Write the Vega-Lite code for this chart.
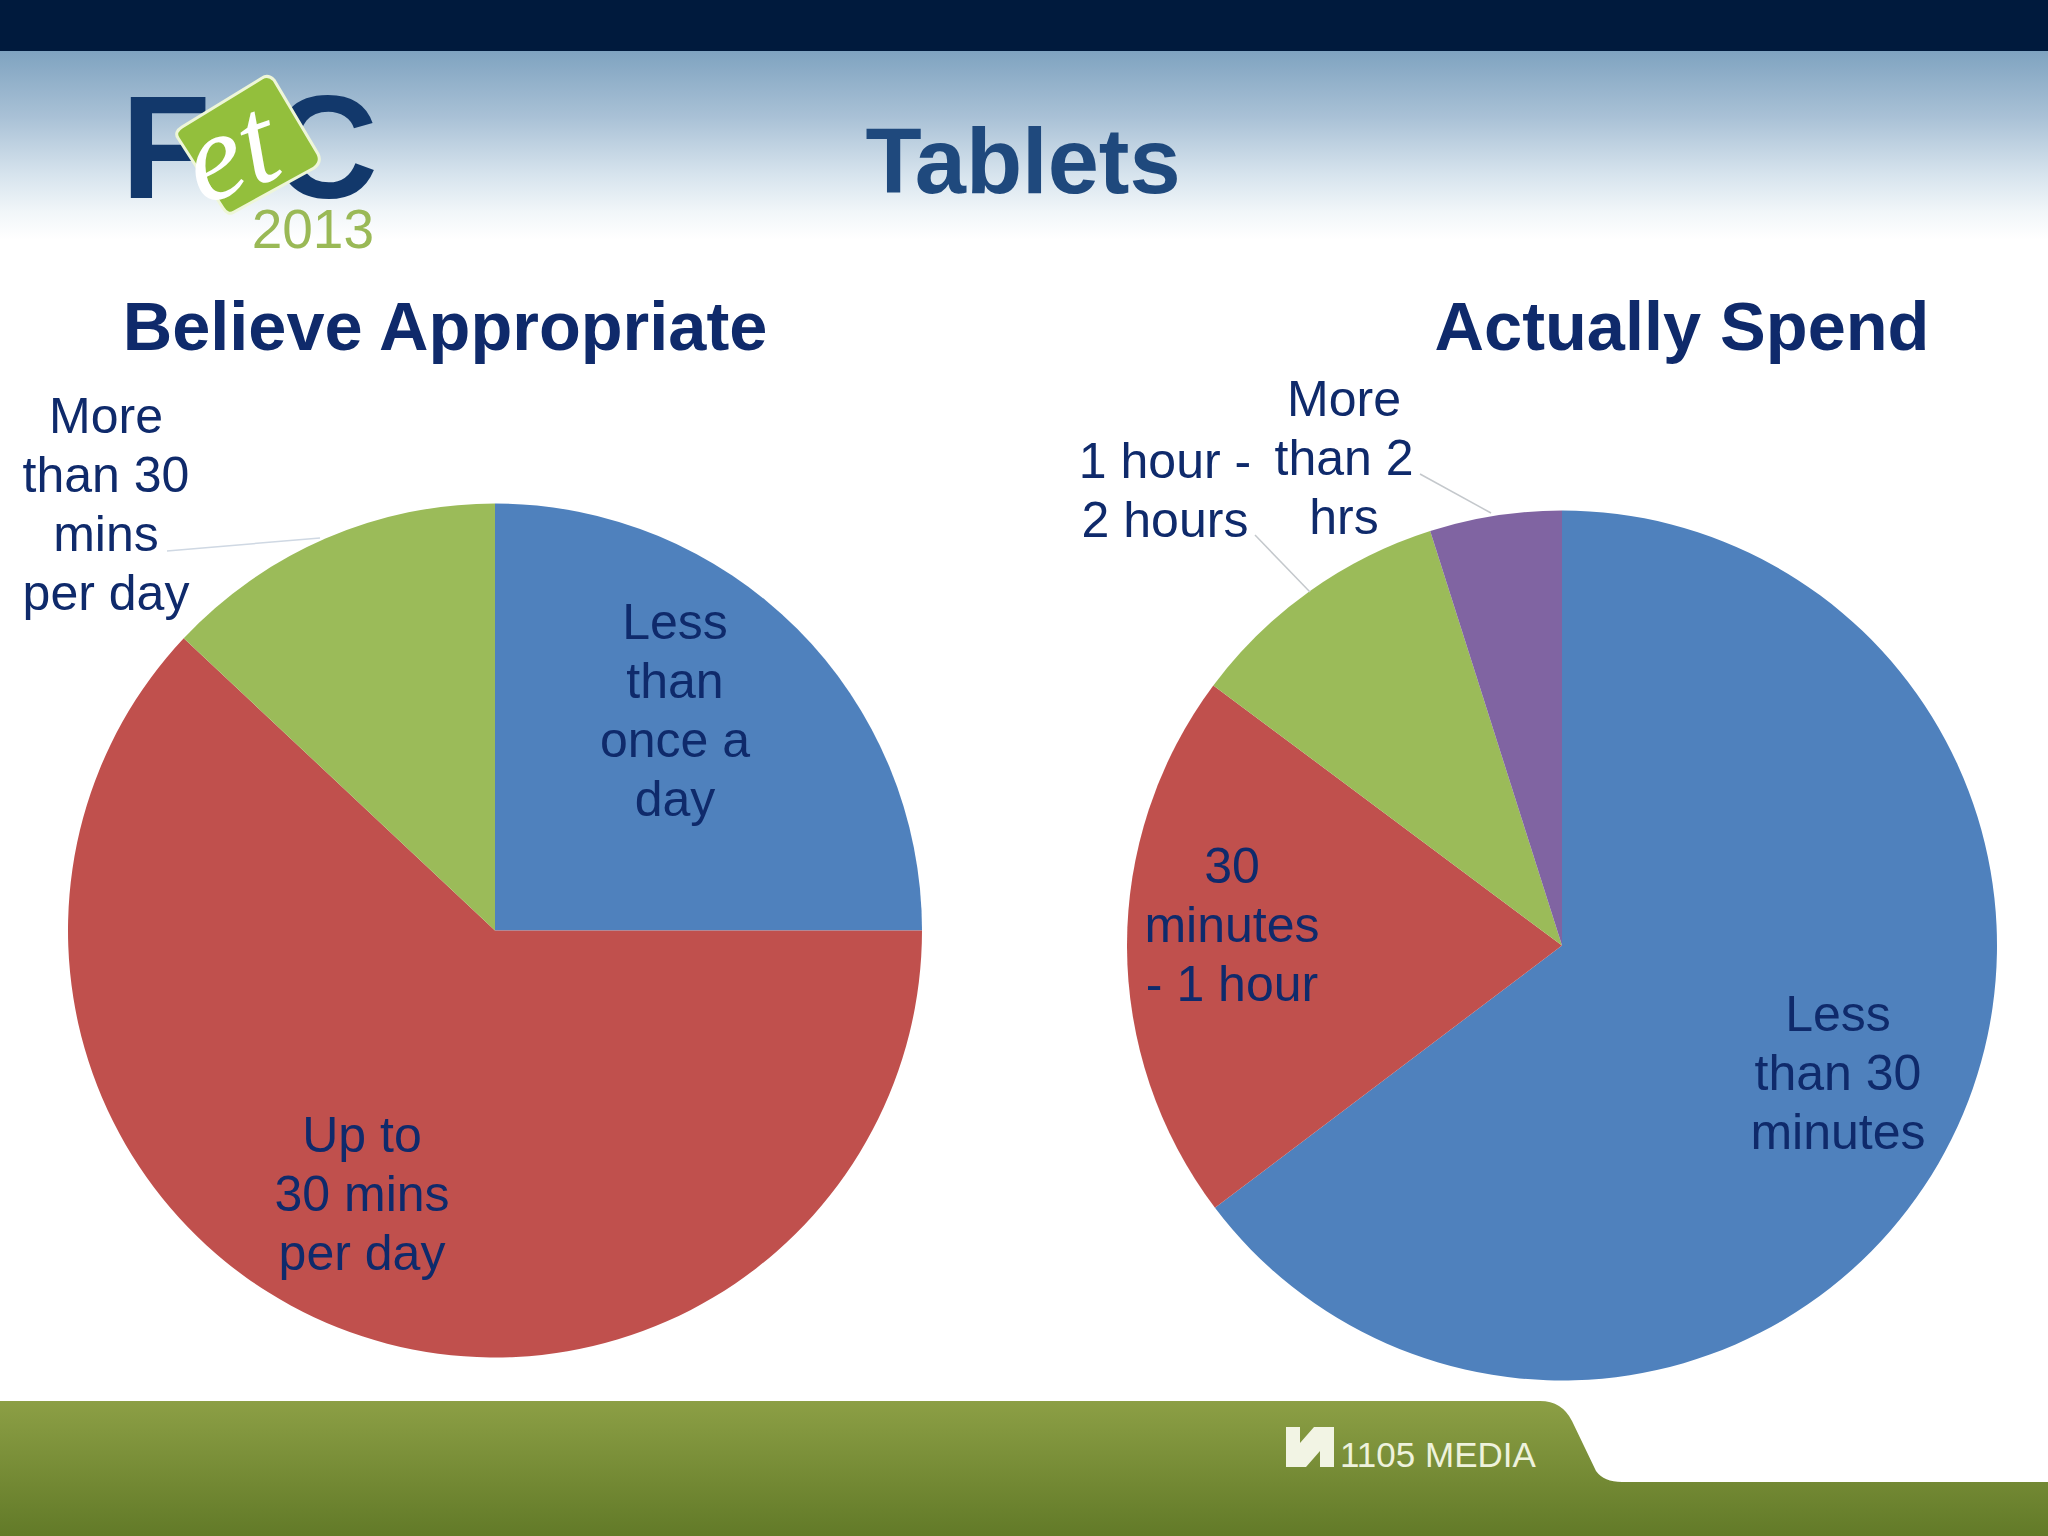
{
  "$schema": "https://vega.github.io/schema/vega-lite/v6.json",
  "width": 2048,
  "height": 1536,
  "padding": 0,
  "autosize": {"type": "none"},
  "background": "white",
  "view": {"stroke": null},
  "datasets": {
    "slices": [
      {"chart": "Believe Appropriate", "slice": "Less than once a day", "label": "Less\nthan\nonce a\nday", "share": 25, "rank": 1},
      {"chart": "Believe Appropriate", "slice": "Up to 30 mins per day", "label": "Up to\n30 mins\nper day", "share": 62, "rank": 2},
      {"chart": "Believe Appropriate", "slice": "More than 30 mins per day", "label": "More\nthan 30\nmins\nper day", "share": 13, "rank": 3},
      {"chart": "Actually Spend", "slice": "Less than 30 minutes", "label": "Less\nthan 30\nminutes", "share": 64.7, "rank": 1},
      {"chart": "Actually Spend", "slice": "30 minutes - 1 hour", "label": "30\nminutes\n- 1 hour", "share": 20.5, "rank": 2},
      {"chart": "Actually Spend", "slice": "1 hour - 2 hours", "label": "1 hour -\n2 hours", "share": 9.9, "rank": 3},
      {"chart": "Actually Spend", "slice": "More than 2 hrs", "label": "More\nthan 2\nhrs", "share": 4.9, "rank": 4}
    ],
    "frame": [{"part": "slide"}]
  },
  "data": {"name": "slices"},
  "encoding": {
    "x": {"type": "quantitative", "axis": null, "scale": {"domain": [0, 2048], "nice": false, "zero": false}},
    "y": {"type": "quantitative", "axis": null, "scale": {"domain": [1536, 0], "nice": false, "zero": false}}
  },
  "layer": [
    {
      "data": {"name": "frame"},
      "mark": {"type": "rect", "fill": {"gradient": "linear", "x1": 0, "y1": 0, "x2": 0, "y2": 1, "stops": [
        {"offset": 0, "color": "#7fa3c0"},
        {"offset": 0.35, "color": "#a9c1d6"},
        {"offset": 0.65, "color": "#d6e3ed"},
        {"offset": 0.85, "color": "#f1f6f9"},
        {"offset": 1, "color": "#ffffff"}
      ]}},
      "encoding": {"x": {"datum": 0}, "x2": {"datum": 2048}, "y": {"datum": 51}, "y2": {"datum": 240}}
    },
    {
      "data": {"name": "frame"},
      "mark": {"type": "rect", "fill": "#001a3d"},
      "encoding": {"x": {"datum": 0}, "x2": {"datum": 2048}, "y": {"datum": 0}, "y2": {"datum": 51}}
    },
    {
      "data": {"name": "frame"},
      "mark": {"type": "point", "filled": true, "opacity": 1, "size": 4, "strokeWidth": 0,
        "shape": "M0 0 L1540 0 Q1562 0 1572 20 L1596 70 Q1604 81 1622 81 L2048 81 L2048 135 L0 135 Z",
        "fill": {"gradient": "linear", "x1": 0, "y1": 0, "x2": 0, "y2": 1, "stops": [
          {"offset": 0, "color": "#8c9f45"},
          {"offset": 1, "color": "#627a28"}
        ]}},
      "encoding": {"x": {"datum": 0}, "y": {"datum": 1401}}
    },
    {
      "data": {"name": "frame"},
      "mark": {"type": "text", "text": "F", "font": "Liberation Sans", "fontWeight": "bold", "fontSize": 147, "align": "left", "baseline": "alphabetic", "fill": "#12386b"},
      "encoding": {"x": {"datum": 121}, "y": {"datum": 198}}
    },
    {
      "data": {"name": "frame"},
      "mark": {"type": "text", "text": "C", "font": "Liberation Sans", "fontWeight": "bold", "fontSize": 147, "align": "right", "baseline": "alphabetic", "fill": "#12386b"},
      "encoding": {"x": {"datum": 378}, "y": {"datum": 198}}
    },
    {
      "data": {"name": "frame"},
      "mark": {"type": "point", "filled": true, "opacity": 1, "size": 4, "fill": "#93bf3c", "stroke": "#eef6d8", "strokeWidth": 3,
        "shape": "M14 -68 Q20 -72 26 -66 L70 8 Q74 16 66 22 L-14 66 Q-20 70 -25 62 L-70 -8 Q-74 -14 -66 -19 Z"},
      "encoding": {"x": {"datum": 248}, "y": {"datum": 146}}
    },
    {
      "data": {"name": "frame"},
      "mark": {"type": "text", "text": "et", "font": "Liberation Serif", "fontStyle": "italic", "fontSize": 125, "angle": 340, "align": "center", "baseline": "alphabetic", "fill": "#ffffff"},
      "encoding": {"x": {"datum": 244}, "y": {"datum": 190}}
    },
    {
      "data": {"name": "frame"},
      "mark": {"type": "text", "text": "2013", "font": "Liberation Sans", "fontSize": 55, "align": "right", "baseline": "alphabetic", "fill": "#9ab956"},
      "encoding": {"x": {"datum": 374}, "y": {"datum": 248}}
    },
    {
      "data": {"name": "frame"},
      "mark": {"type": "text", "text": "Tablets", "font": "Liberation Sans", "fontWeight": "bold", "fontSize": 92, "align": "center", "baseline": "alphabetic", "fill": "#1f497d"},
      "encoding": {"x": {"datum": 1023}, "y": {"datum": 193}}
    },
    {
      "data": {"name": "frame"},
      "mark": {"type": "text", "text": "Believe Appropriate", "font": "Liberation Sans", "fontWeight": "bold", "fontSize": 68.5, "align": "center", "baseline": "alphabetic", "fill": "#0f2a6b"},
      "encoding": {"x": {"datum": 445}, "y": {"datum": 350}}
    },
    {
      "data": {"name": "frame"},
      "mark": {"type": "text", "text": "Actually Spend", "font": "Liberation Sans", "fontWeight": "bold", "fontSize": 68.5, "align": "center", "baseline": "alphabetic", "fill": "#0f2a6b"},
      "encoding": {"x": {"datum": 1682}, "y": {"datum": 350}}
    },
    {
      "data": {"name": "frame"},
      "mark": {"type": "text", "text": "1105 MEDIA", "font": "Liberation Sans", "fontSize": 35, "align": "left", "baseline": "alphabetic", "fill": "#eef2dc"},
      "encoding": {"x": {"datum": 1340}, "y": {"datum": 1467}}
    },
    {
      "data": {"name": "frame"},
      "mark": {"type": "point", "filled": true, "opacity": 1, "size": 4, "strokeWidth": 0, "fill": "#f2f4e4",
        "shape": "M-24 -20 L-10 -20 L-10 -4 L4 -20 L24 -20 L24 20 L10 20 L10 4 L-4 20 L-24 20 Z"},
      "encoding": {"x": {"datum": 1310}, "y": {"datum": 1447}}
    },
    {
      "transform": [{"filter": "datum.chart === 'Believe Appropriate'"}],
      "mark": {"type": "arc", "outerRadius": 427},
      "encoding": {
        "x": {"datum": 495},
        "y": {"datum": 930.5},
        "theta": {"field": "share", "type": "quantitative", "stack": true, "scale": {"domain": [0, 100]}},
        "order": {"field": "rank", "type": "quantitative"},
        "color": {
          "field": "slice",
          "type": "nominal",
          "legend": null,
          "scale": {
            "domain": ["Less than once a day", "Up to 30 mins per day", "More than 30 mins per day", "Less than 30 minutes", "30 minutes - 1 hour", "1 hour - 2 hours", "More than 2 hrs"],
            "range": ["#4f81bd", "#c0504d", "#9bbb59", "#4f81bd", "#c0504d", "#9bbb59", "#8064a2"]
          }
        }
      }
    },
    {
      "transform": [{"filter": "datum.chart === 'Actually Spend'"}],
      "mark": {"type": "arc", "outerRadius": 435},
      "encoding": {
        "x": {"datum": 1562},
        "y": {"datum": 945.5},
        "theta": {"field": "share", "type": "quantitative", "stack": true},
        "order": {"field": "rank", "type": "quantitative"},
        "color": {"field": "slice", "type": "nominal", "legend": null}
      }
    },
    {
      "data": {"name": "frame"},
      "mark": {"type": "rule", "stroke": "#cfd8e3", "strokeWidth": 1.5},
      "encoding": {"x": {"datum": 167}, "x2": {"datum": 320}, "y": {"datum": 551}, "y2": {"datum": 538}}
    },
    {
      "data": {"name": "frame"},
      "mark": {"type": "rule", "stroke": "#c4c8cc", "strokeWidth": 1.5},
      "encoding": {"x": {"datum": 1255}, "x2": {"datum": 1310}, "y": {"datum": 535}, "y2": {"datum": 592}}
    },
    {
      "data": {"name": "frame"},
      "mark": {"type": "rule", "stroke": "#c4c8cc", "strokeWidth": 1.5},
      "encoding": {"x": {"datum": 1420}, "x2": {"datum": 1491}, "y": {"datum": 474}, "y2": {"datum": 513}}
    },
    {
      "transform": [{"filter": "datum.slice === 'Less than once a day'"}],
      "mark": {"type": "text", "font": "Liberation Sans", "fontSize": 50, "lineHeight": 59, "lineBreak": "\n", "align": "center", "baseline": "middle", "fill": "#0f2a6b"},
      "encoding": {"x": {"datum": 675}, "y": {"datum": 624}, "text": {"field": "label"}}
    },
    {
      "transform": [{"filter": "datum.slice === 'Up to 30 mins per day'"}],
      "mark": {"type": "text", "font": "Liberation Sans", "fontSize": 50, "lineHeight": 59, "lineBreak": "\n", "align": "center", "baseline": "middle", "fill": "#0f2a6b"},
      "encoding": {"x": {"datum": 362}, "y": {"datum": 1137}, "text": {"field": "label"}}
    },
    {
      "transform": [{"filter": "datum.slice === 'More than 30 mins per day'"}],
      "mark": {"type": "text", "font": "Liberation Sans", "fontSize": 50, "lineHeight": 59, "lineBreak": "\n", "align": "center", "baseline": "middle", "fill": "#0f2a6b"},
      "encoding": {"x": {"datum": 106}, "y": {"datum": 418}, "text": {"field": "label"}}
    },
    {
      "transform": [{"filter": "datum.slice === 'Less than 30 minutes'"}],
      "mark": {"type": "text", "font": "Liberation Sans", "fontSize": 50, "lineHeight": 59, "lineBreak": "\n", "align": "center", "baseline": "middle", "fill": "#0f2a6b"},
      "encoding": {"x": {"datum": 1838}, "y": {"datum": 1016}, "text": {"field": "label"}}
    },
    {
      "transform": [{"filter": "datum.slice === '30 minutes - 1 hour'"}],
      "mark": {"type": "text", "font": "Liberation Sans", "fontSize": 50, "lineHeight": 59, "lineBreak": "\n", "align": "center", "baseline": "middle", "fill": "#0f2a6b"},
      "encoding": {"x": {"datum": 1232}, "y": {"datum": 868}, "text": {"field": "label"}}
    },
    {
      "transform": [{"filter": "datum.slice === '1 hour - 2 hours'"}],
      "mark": {"type": "text", "font": "Liberation Sans", "fontSize": 50, "lineHeight": 59, "lineBreak": "\n", "align": "center", "baseline": "middle", "fill": "#0f2a6b"},
      "encoding": {"x": {"datum": 1165}, "y": {"datum": 463}, "text": {"field": "label"}}
    },
    {
      "transform": [{"filter": "datum.slice === 'More than 2 hrs'"}],
      "mark": {"type": "text", "font": "Liberation Sans", "fontSize": 50, "lineHeight": 59, "lineBreak": "\n", "align": "center", "baseline": "middle", "fill": "#0f2a6b"},
      "encoding": {"x": {"datum": 1344}, "y": {"datum": 401}, "text": {"field": "label"}}
    }
  ]
}
